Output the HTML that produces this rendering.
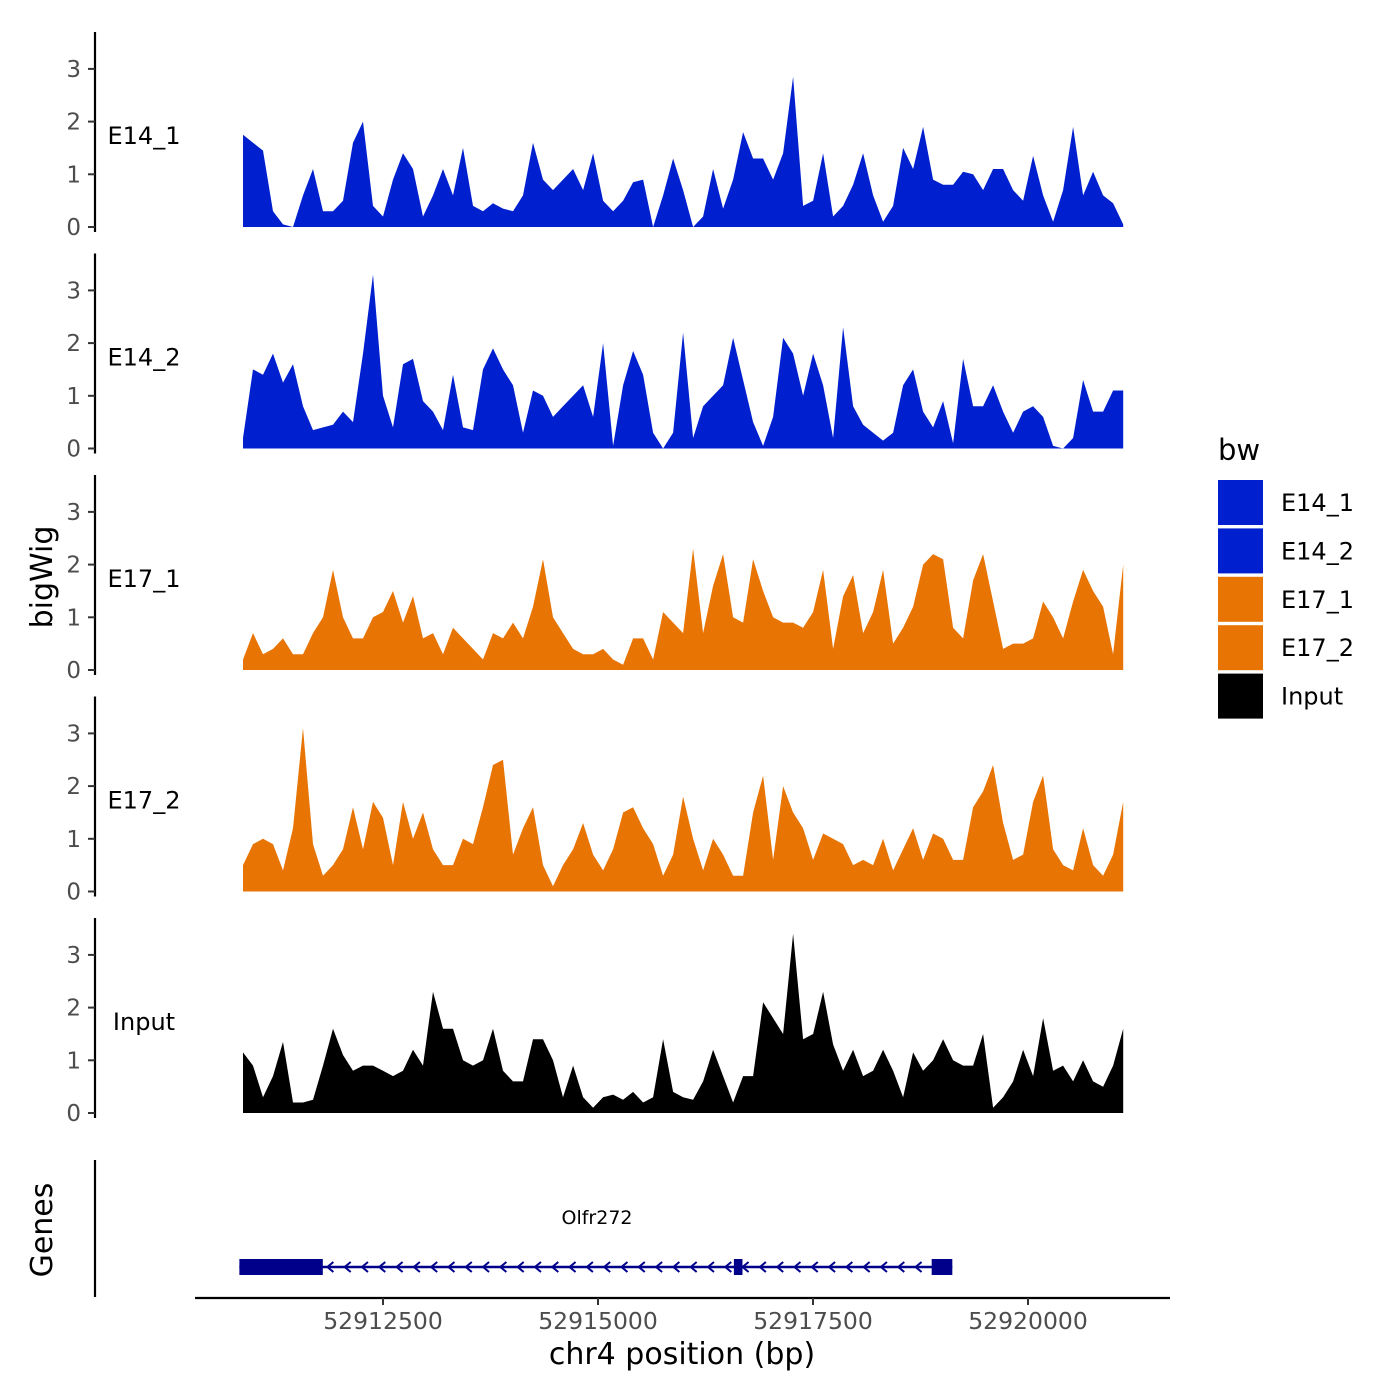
<!DOCTYPE html>
<html><head><meta charset="utf-8"><style>
html,body{margin:0;padding:0;background:#fff;width:1400px;height:1400px;overflow:hidden}
svg text{font-family:"DejaVu Sans","Liberation Sans",sans-serif}
</style></head><body>
<svg id="chart" width="1400" height="1400" viewBox="0 0 1400 1400" xmlns="http://www.w3.org/2000/svg">
<text x="52" y="577" font-size="30" text-anchor="middle" transform="rotate(-90 52 577)">bigWig</text>
<text x="52" y="1230" font-size="30" text-anchor="middle" transform="rotate(-90 52 1230)">Genes</text>
<text x="682" y="1364" font-size="30" text-anchor="middle">chr4 position (bp)</text>
<g id="legend">
<text x="1218" y="460" font-size="29">bw</text>
</g>
<g id="panels"></g>
<g id="genes"></g>
<g id="xaxis"></g>
</svg>
<script>
const NS="http://www.w3.org/2000/svg";
const sampleNames=["E14_1","E14_2","E17_1","E17_2","Input"];
const sampleColors=["#0020d0","#0020d0","#e87404","#e87404","#000000"];
const binStart=52910872;
const binWidth=116.3;
const e14_1=[1.75,1.6,1.45,0.3,0.05,0,0.6,1.1,0.3,0.3,0.5,1.6,2.0,0.4,0.2,0.9,1.4,1.1,0.2,0.6,1.1,0.6,1.5,0.4,0.3,0.45,0.35,0.3,0.6,1.6,0.9,0.7,0.9,1.1,0.7,1.4,0.5,0.3,0.5,0.85,0.9,0,0.6,1.3,0.7,0,0.2,1.1,0.35,0.9,1.8,1.3,1.3,0.9,1.4,2.85,0.4,0.5,1.4,0.2,0.4,0.8,1.4,0.6,0.1,0.4,1.5,1.1,1.9,0.9,0.8,0.8,1.05,1.0,0.7,1.1,1.1,0.7,0.5,1.35,0.6,0.1,0.7,1.9,0.6,1.05,0.6,0.45,0.05];
const e14_2=[0.2,1.5,1.4,1.8,1.25,1.6,0.8,0.35,0.4,0.45,0.7,0.5,1.8,3.3,1.0,0.4,1.6,1.7,0.9,0.7,0.35,1.4,0.4,0.35,1.5,1.9,1.5,1.2,0.3,1.1,1.0,0.6,0.8,1.0,1.2,0.6,2.0,0.05,1.2,1.85,1.4,0.3,0,0.3,2.2,0.2,0.8,1.0,1.2,2.1,1.3,0.5,0.05,0.6,2.1,1.8,1.0,1.8,1.2,0.2,2.3,0.8,0.45,0.3,0.15,0.3,1.2,1.5,0.7,0.4,0.9,0.1,1.7,0.8,0.8,1.2,0.7,0.3,0.7,0.8,0.6,0.05,0,0.2,1.3,0.7,0.7,1.1,1.1];
const e17_1=[0.2,0.7,0.3,0.4,0.6,0.3,0.3,0.7,1.0,1.9,1.0,0.6,0.6,1.0,1.1,1.5,0.9,1.4,0.6,0.7,0.3,0.8,0.6,0.4,0.2,0.7,0.6,0.9,0.6,1.2,2.1,1.0,0.7,0.4,0.3,0.3,0.4,0.2,0.1,0.6,0.6,0.2,1.1,0.9,0.7,2.3,0.7,1.6,2.2,1.0,0.9,2.1,1.5,1.0,0.9,0.9,0.8,1.1,1.9,0.4,1.4,1.8,0.7,1.1,1.9,0.5,0.8,1.2,2.0,2.2,2.1,0.8,0.6,1.7,2.2,1.3,0.4,0.5,0.5,0.6,1.3,1.0,0.6,1.3,1.9,1.5,1.2,0.3,2.0];
const e17_2=[0.5,0.9,1.0,0.9,0.4,1.2,3.1,0.9,0.3,0.5,0.8,1.6,0.8,1.7,1.4,0.5,1.7,1.0,1.5,0.8,0.5,0.5,1.0,0.9,1.6,2.4,2.5,0.7,1.2,1.6,0.5,0.1,0.5,0.8,1.3,0.7,0.4,0.8,1.5,1.6,1.2,0.9,0.3,0.7,1.8,1.0,0.4,1.0,0.7,0.3,0.3,1.5,2.2,0.6,2.0,1.5,1.2,0.6,1.1,1.0,0.9,0.5,0.6,0.5,1.0,0.4,0.8,1.2,0.6,1.1,1.0,0.6,0.6,1.6,1.9,2.4,1.3,0.6,0.7,1.7,2.2,0.8,0.5,0.4,1.2,0.5,0.3,0.7,1.7];
const input=[1.15,0.9,0.3,0.7,1.35,0.2,0.2,0.25,0.9,1.6,1.1,0.8,0.9,0.9,0.8,0.7,0.8,1.2,0.9,2.3,1.6,1.6,1.0,0.9,1.0,1.6,0.8,0.6,0.6,1.4,1.4,1.0,0.3,0.9,0.3,0.1,0.3,0.35,0.25,0.4,0.2,0.3,1.4,0.4,0.3,0.25,0.6,1.2,0.7,0.2,0.7,0.7,2.1,1.8,1.5,3.4,1.4,1.5,2.3,1.3,0.8,1.2,0.7,0.8,1.2,0.8,0.3,1.15,0.8,1.0,1.4,1.0,0.9,0.9,1.5,0.1,0.3,0.6,1.2,0.7,1.8,0.8,0.9,0.6,1.0,0.6,0.5,0.9,1.6];
const seriesValues=[e14_1,e14_2,e17_1,e17_2,input];
const yTicks=[0,1,2,3];
const xTicks=[52912500,52915000,52917500,52920000];
const geneName="Olfr272";
const geneStart=52910830, geneEnd=52919120;
const exons=[[52910830,52911800],[52916580,52916680],[52918880,52919120]];

function xScale(bp){return 383+(bp-52912500)*0.086;}
const PANEL0=227, PANELSTEP=221.5, UNIT=52.7;
function yScale(v,p){return PANEL0+p*PANELSTEP-v*UNIT;}
function mk(tag,attrs,parent){const e=document.createElementNS(NS,tag);for(const k in attrs)e.setAttribute(k,attrs[k]);parent.appendChild(e);return e;}

const panels=document.getElementById('panels');
seriesValues.forEach((vals,p)=>{
  const g=mk('g',{},panels);
  
  
  const base=yScale(0,p);
  const ax=mk('line',{x1:95,x2:95,y1:base-195,y2:base+5,stroke:'#000','stroke-width':2.2},g);
  
  
  yTicks.forEach(t=>{
    const y=yScale(t,p);
    const tk=mk('line',{x1:88,x2:95,y1:y,y2:y,stroke:'#333','stroke-width':2},g);
    
    
    const tl=mk('text',{x:81,y:y+8,'font-size':23,fill:'#4d4d4d','text-anchor':'end'},g);
    tl.textContent=t;
    
    
  });
  let d='M'+xScale(binStart).toFixed(1)+','+base;
  vals.forEach((v,i)=>{d+=' L'+xScale(binStart+i*binWidth).toFixed(1)+','+yScale(v,p).toFixed(1);});
  d+=' L'+xScale(binStart+(vals.length-1)*binWidth).toFixed(1)+','+base+' Z';
  const area=mk('path',{d:d,fill:sampleColors[p]},g);
  
  
  const lab=mk('text',{x:144,y:yScale(1.75,p)+9,'font-size':24,'text-anchor':'middle'},g);
  lab.textContent=sampleNames[p];
  
  
});

// legend
const legend=document.getElementById('legend');
sampleNames.forEach((n,i)=>{
  const y=480+i*48.4;
  const r=mk('rect',{x:1218,y:y,width:45,height:45,fill:sampleColors[i]},legend);
  
  
  const t=mk('text',{x:1281,y:y+31,'font-size':24},legend);
  t.textContent=n;
  
  
});

// genes
const genes=document.getElementById('genes');
const gax=mk('line',{x1:95,x2:95,y1:1160,y2:1297,stroke:'#000','stroke-width':2.2},genes);


const gy=1267;
const gl=mk('line',{x1:xScale(geneStart),x2:xScale(geneEnd),y1:gy,y2:gy,stroke:'#00008b','stroke-width':2.5},genes);


for(let x=xScale(geneStart)+90;x<xScale(geneEnd)-20;x+=17.3){
  const a=mk('path',{d:`M${x+4},${gy-5} L${x-2},${gy} L${x+4},${gy+5}`,fill:'none',stroke:'#00008b','stroke-width':2},genes);
  
  
}
exons.forEach(e=>{
  const x1=xScale(e[0]),x2=xScale(e[1]);
  const r=mk('rect',{x:x1,y:gy-8,width:Math.max(x2-x1,6),height:16,fill:'#00008b'},genes);
  
  
});
const gn=mk('text',{x:597,y:1224,'font-size':19,'text-anchor':'middle'},genes);
gn.textContent=geneName;



// x axis
const xa=document.getElementById('xaxis');
const xl=mk('line',{x1:195,x2:1170,y1:1298,y2:1298,stroke:'#000','stroke-width':2.2},xa);


xTicks.forEach(t=>{
  const x=xScale(t);
  const tk=mk('line',{x1:x,x2:x,y1:1298,y2:1305,stroke:'#333','stroke-width':2},xa);
  
  
  const tl=mk('text',{x:x,y:1329,'font-size':23.5,fill:'#4d4d4d','text-anchor':'middle'},xa);
  tl.textContent=t;
  
  
});
</script>
</body></html>
